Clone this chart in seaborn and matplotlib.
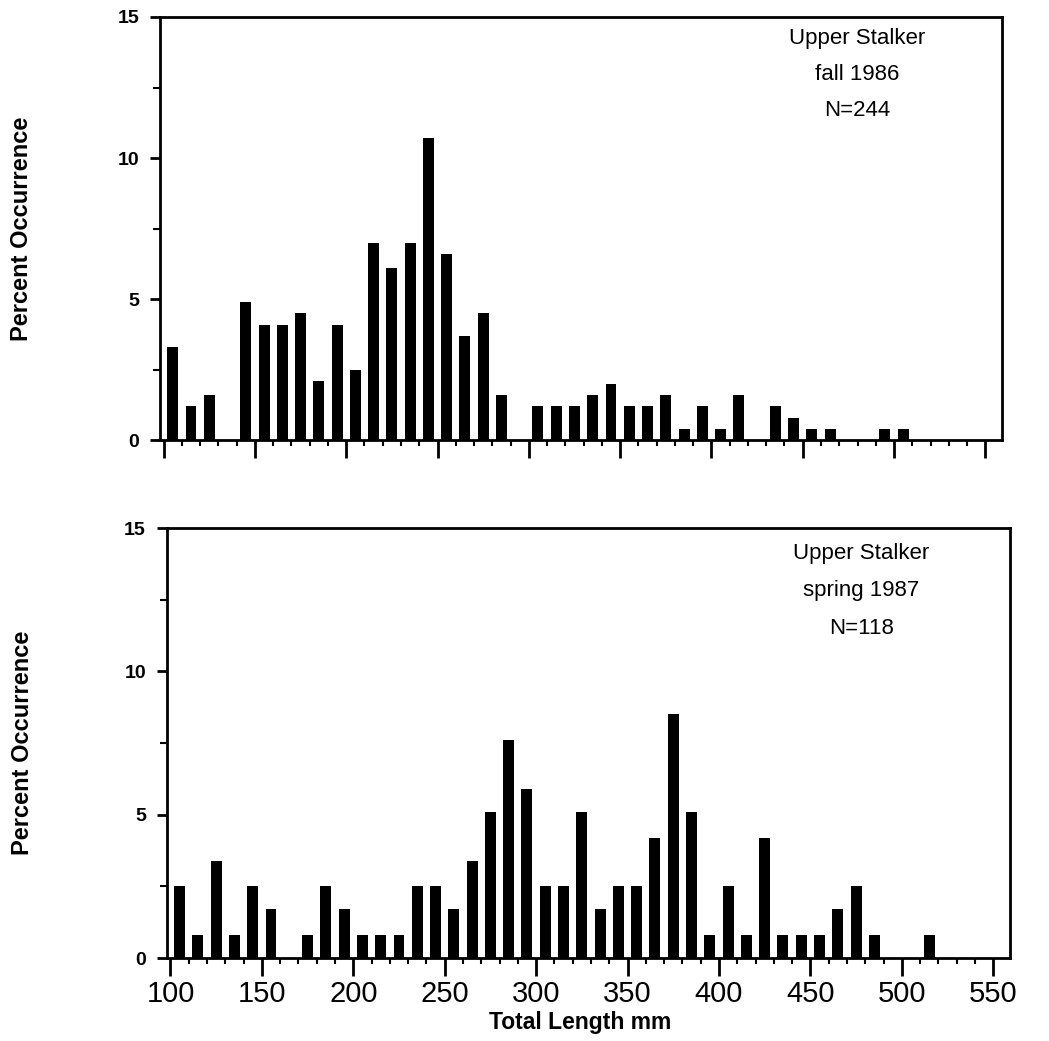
import numpy as np
import pandas as pd
import matplotlib
matplotlib.use("Agg")
import matplotlib.pyplot as plt
from matplotlib.ticker import MultipleLocator
import seaborn as sns

# length classes (mm), bar drawn at class midpoint
length_fall = [105, 115, 125, 135, 145, 155, 165, 175, 185, 195, 205, 215, 225, 235,
               245, 255, 265, 275, 285, 295, 305, 315, 325, 335, 345, 355, 365, 375,
               385, 395, 405, 415, 425, 435, 445, 455, 465, 475, 485, 495, 505]
pct_fall = [3.3, 1.2, 1.6, 0, 4.9, 4.1, 4.1, 4.5, 2.1, 4.1, 2.5, 7.0, 6.1, 7.0,
            10.7, 6.6, 3.7, 4.5, 1.6, 0, 1.2, 1.2, 1.2, 1.6, 2.0, 1.2, 1.2, 1.6,
            0.4, 1.2, 0.4, 1.6, 0, 1.2, 0.8, 0.4, 0.4, 0, 0, 0.4, 0.4]

length_spring = [105, 115, 125, 135, 145, 155, 165, 175, 185, 195, 205, 215, 225, 235,
                 245, 255, 265, 275, 285, 295, 305, 315, 325, 335, 345, 355, 365, 375,
                 385, 395, 405, 415, 425, 435, 445, 455, 465, 475, 485, 495, 505, 515]
pct_spring = [2.5, 0.8, 3.4, 0.8, 2.5, 1.7, 0, 0.8, 2.5, 1.7, 0.8, 0.8, 0.8, 2.5,
              2.5, 1.7, 3.4, 5.1, 7.6, 5.9, 2.5, 2.5, 5.1, 1.7, 2.5, 2.5, 4.2, 8.5,
              5.1, 0.8, 2.5, 0.8, 4.2, 0.8, 0.8, 0.8, 1.7, 2.5, 0.8, 0, 0, 0.8]

panel_text = [["Upper Stalker", "fall 1986", "N=244"],
              ["Upper Stalker", "spring 1987", "N=118"]]

sns.set_style("ticks")
plt.rcParams['font.family'] = ['Liberation Sans', 'DejaVu Sans']
plt.rcParams['text.color'] = 'black'
plt.rcParams['axes.labelcolor'] = 'black'
plt.rcParams['xtick.color'] = 'black'
plt.rcParams['ytick.color'] = 'black'

fig = plt.figure(figsize=(10.49, 10.41), dpi=100)
ax1 = fig.add_axes([0.1525, 0.577, 0.8025, 0.4067])
ax2 = fig.add_axes([0.159, 0.0797, 0.8035, 0.413])

df_fall = pd.DataFrame({"len": length_fall, "pct": pct_fall})
df_spring = pd.DataFrame({"len": length_spring, "pct": pct_spring})

for ax, df in [(ax1, df_fall), (ax2, df_spring)]:
    sns.barplot(data=df, x="len", y="pct", native_scale=True, orient="x",
                color="black", width=0.6, linewidth=0, errorbar=None,
                saturation=1, ax=ax)

for ax in (ax1, ax2):
    ax.set_xlim(98, 559)
    ax.set_ylim(0, 15)
    ax.xaxis.set_major_locator(MultipleLocator(50))
    ax.xaxis.set_minor_locator(MultipleLocator(10))
    ax.yaxis.set_major_locator(MultipleLocator(5))
    ax.yaxis.set_minor_locator(MultipleLocator(2.5))
    ax.tick_params(axis="x", which="major", length=13, width=2, direction="out")
    ax.tick_params(axis="x", which="minor", length=4, width=1.5, direction="out")
    ax.tick_params(axis="y", which="major", length=7, width=2, direction="out", pad=8)
    ax.tick_params(axis="y", which="minor", length=5, width=1.5, direction="out")
    for s in ax.spines.values():
        s.set_visible(True)
        s.set_linewidth(2)
        s.set_color("black")
    ax.set_yticks([0, 5, 10, 15])
    ax.set_yticklabels(["0", "5", "10", "15"], fontsize=14, fontweight="bold")
    ax.set_ylabel("Percent Occurrence", fontsize=17, fontweight="bold")
    ax.set_xlabel("")

ax1.yaxis.set_label_coords(-0.151, 0.5)
ax2.yaxis.set_label_coords(-0.158, 0.5)

ax1.tick_params(axis="x", labelbottom=False)
ax2.set_xticks(range(100, 551, 50))
ax2.set_xticklabels([str(v) for v in range(100, 551, 50)], fontsize=21)
ax2.tick_params(axis="x", which="major", pad=3)
ax2.set_xlabel("Total Length mm", fontsize=16.5, fontweight="bold")
ax2.xaxis.set_label_coords(0.49, -0.124)

ax1_pos = [(0.828, 0.950), (0.828, 0.863), (0.828, 0.780)]
ax2_pos = [(0.824, 0.942), (0.824, 0.856), (0.824, 0.767)]
for ax, lines, pos in [(ax1, panel_text[0], ax1_pos), (ax2, panel_text[1], ax2_pos)]:
    for txt, (px, py) in zip(lines, pos):
        ax.text(px, py, txt, transform=ax.transAxes, ha="center", va="center", fontsize=16)

plt.savefig("out.png", dpi=100)
